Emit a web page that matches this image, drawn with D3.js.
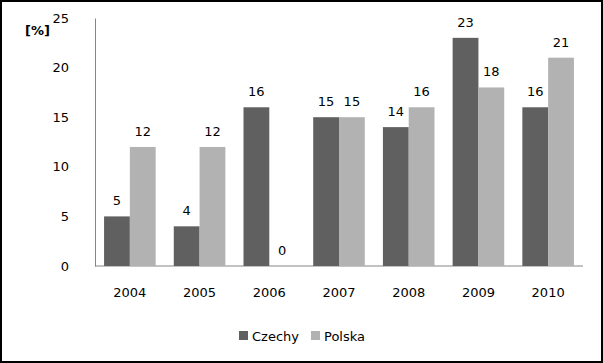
<!DOCTYPE html>
<html>
<head>
<meta charset="utf-8">
<script src="https://d3js.org/d3.v7.min.js"></script>
<style>
  body { margin: 0; background: #fff; }
  svg text { font-family: "DejaVu Sans", sans-serif; font-size: 13px; fill: #000; }
</style>
</head>
<body>
<div id="chart"></div>
<script>
// Data
var years = ["2004", "2005", "2006", "2007", "2008", "2009", "2010"];
var czechy = [5, 4, 16, 15, 14, 23, 16];
var polska = [12, 12, 0, 15, 16, 18, 21];
var seriesNames = ["Czechy", "Polska"];
var colors = ["#606060", "#b2b2b2"];
var yTicks = [0, 5, 10, 15, 20, 25];

var W = 603, H = 363;
var margin = {top: 18, right: 20, bottom: 97, left: 95};
var width = W - margin.left - margin.right,
    height = H - margin.top - margin.bottom;

var svg = d3.select("#chart").append("svg")
  .attr("width", W).attr("height", H);

// outer frame
svg.append("rect")
  .attr("x", 1).attr("y", 1).attr("width", W - 2).attr("height", H - 2)
  .attr("fill", "none").attr("stroke", "#000").attr("stroke-width", 2);

var g = svg.append("g")
  .attr("transform", "translate(" + margin.left + "," + margin.top + ")");

var x = d3.scaleBand().domain(years).range([0, width]).paddingInner(0.26).paddingOuter(0.13);
var x1 = d3.scaleBand().domain(seriesNames).range([0, x.bandwidth()]);
var y = d3.scaleLinear().domain([0, 25]).range([height, 0]);

// y axis
var yAxis = g.append("g")
  .call(d3.axisLeft(y).tickValues(yTicks).tickSize(0).tickPadding(26));
yAxis.select(".domain").attr("stroke", "#868686");
yAxis.selectAll("text").attr("font-family", "DejaVu Sans").attr("font-size", 13);

// x baseline
g.append("line")
  .attr("x1", 0).attr("x2", width)
  .attr("y1", y(0)).attr("y2", y(0))
  .attr("stroke", "#868686");

// year labels
var xAxis = g.append("g")
  .attr("transform", "translate(0," + height + ")")
  .call(d3.axisBottom(x).tickSize(0).tickPadding(22));
xAxis.select(".domain").remove();
xAxis.selectAll("text").attr("font-family", "DejaVu Sans").attr("font-size", 13);

// bars
var rows = years.map(function(yr, i) {
  return {year: yr, vals: [czechy[i], polska[i]]};
});

var groups = g.selectAll(".grp").data(rows).enter().append("g")
  .attr("transform", function(d) { return "translate(" + x(d.year) + ",0)"; });

groups.selectAll("rect").data(function(d) { return d.vals; }).enter().append("rect")
  .attr("x", function(d, i) { return x1(seriesNames[i]); })
  .attr("y", function(d) { return y(d); })
  .attr("width", x1.bandwidth())
  .attr("height", function(d) { return height - y(d); })
  .attr("fill", function(d, i) { return colors[i]; });

groups.selectAll(".lbl").data(function(d) { return d.vals; }).enter().append("text")
  .attr("x", function(d, i) { return x1(seriesNames[i]) + x1.bandwidth() / 2; })
  .attr("y", function(d) { return y(d) - 11; })
  .attr("text-anchor", "middle")
  .text(function(d) { return d; });

// unit label
svg.append("text").attr("x", 25).attr("y", 35).attr("font-weight", "bold").text("[%]");

// legend
var legendX = [239, 311];
var legend = svg.selectAll(".leg").data(seriesNames).enter().append("g")
  .attr("transform", function(d, i) { return "translate(" + legendX[i] + ",331)"; });
legend.append("rect").attr("width", 9).attr("height", 9)
  .attr("fill", function(d, i) { return colors[i]; });
legend.append("text").attr("x", 13).attr("y", 10).text(function(d) { return d; });
</script>
</body>
</html>
